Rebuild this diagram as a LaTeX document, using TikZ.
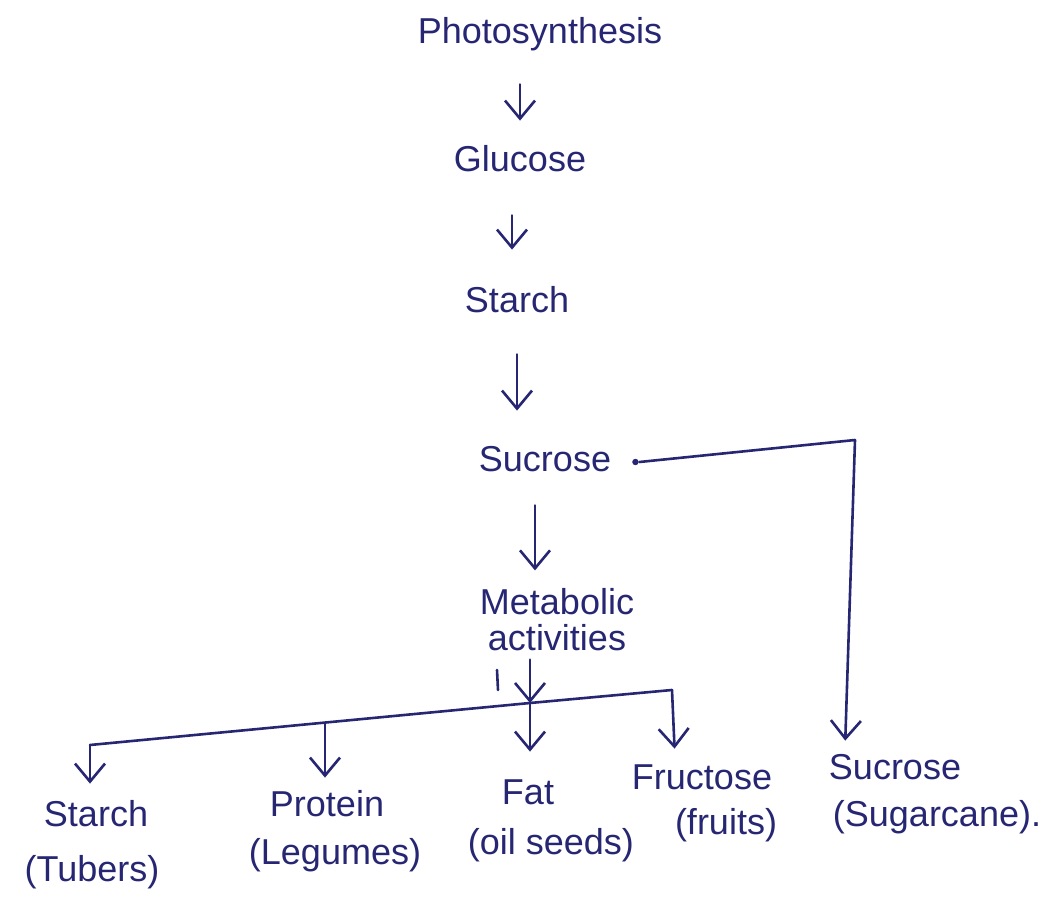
\documentclass[tikz,border=0pt]{standalone}
\usepackage{fontspec}
\setmainfont{Liberation Sans}
\usetikzlibrary{arrows.meta}
\definecolor{ink}{RGB}{38,38,115}
\tikzset{
  lbl/.style={text=ink, font=\fontsize{18}{18}\selectfont, inner sep=2pt, text height=13pt, text depth=4pt},
  link/.style={draw=ink, line width=1.3pt, line cap=round, line join=round},
  flow/.style={link, -{Straight Barb[length=9pt,width=15pt,line width=1.3pt]}}
}
\begin{document}
\begin{tikzpicture}[x=0.5pt,y=-0.5pt]
\useasboundingbox (0,0) rectangle (1045,899);
% main chain
\node[lbl] (ph) at (540,35) {Photosynthesis};
\node[lbl] (gl) at (520,162) {Glucose};
\node[lbl] (st) at (517,303) {Starch};
\node[lbl] (su) at (545,462) {Sucrose};
\node[text=ink, font=\fontsize{18}{18}\selectfont, inner sep=2pt, align=center] (me) at (557,620) {Metabolic\\activities};
% bottom products
\node[lbl] (b1) at (96,817) {Starch};
\node[lbl] (b1s) at (92,872) {(Tubers)};
\node[lbl] (b2) at (327,807) {Protein};
\node[lbl] (b2s) at (335,855) {(Legumes)};
\node[lbl] (b3) at (528,795) {Fat};
\node[lbl] (b3s) at (551,845) {(oil seeds)};
\node[lbl] (b4) at (702,780) {Fructose};
\node[lbl] (b4s) at (726,825) {(fruits)};
\node[lbl] (b5) at (895,770) {Sucrose};
\node[lbl] (b5s) at (937,817) {(Sugarcane).};
% chain arrows
\draw[flow, shorten <=14pt, shorten >=10pt] (ph.south -| gl.north) -- (gl.north);
\draw[flow, shorten <=16pt, shorten >=16pt] ([xshift=-4pt]gl.south) -- ([xshift=-4pt]gl.south |- st.north);
\draw[flow, shorten <=15pt, shorten >=15pt] (st.south) -- (st.south |- su.north);
\draw[flow, shorten <=11pt, shorten >=7pt] ([xshift=-5pt]su.south) -- ([xshift=-5pt]su.south |- me.north);
% branching
\coordinate (j) at (530,703);
\coordinate (c1) at (90,745);
\coordinate (c2) at (325,723);
\coordinate (c4) at (672,690);
\draw[flow, shorten <=2pt] (me.south -| j) -- (j);
\draw[link] (c1) -- (j) -- (c4);
\draw[link] (497,670) -- (498,690);
\draw[flow, shorten >=6pt] (c1) -- (c1 |- b1.north);
\draw[flow, shorten >=4pt] (c2) -- (c2 |- b2.north);
\draw[flow, shorten >=11pt] (j) -- (j |- b3.north);
\draw[flow, shorten >=5pt] (c4) -- ([xshift=1.5pt]c4 |- b4.north);
% sucrose side branch
\coordinate (sd) at ([xshift=10pt]su.east);
\coordinate (cr) at (855,440);
\fill[ink] (sd) circle (1.6pt);
\draw[flow, shorten >=4pt] ([xshift=2pt]sd) -- (cr) -- ([xshift=-5pt]cr |- b5.north);
\end{tikzpicture}
\end{document}
